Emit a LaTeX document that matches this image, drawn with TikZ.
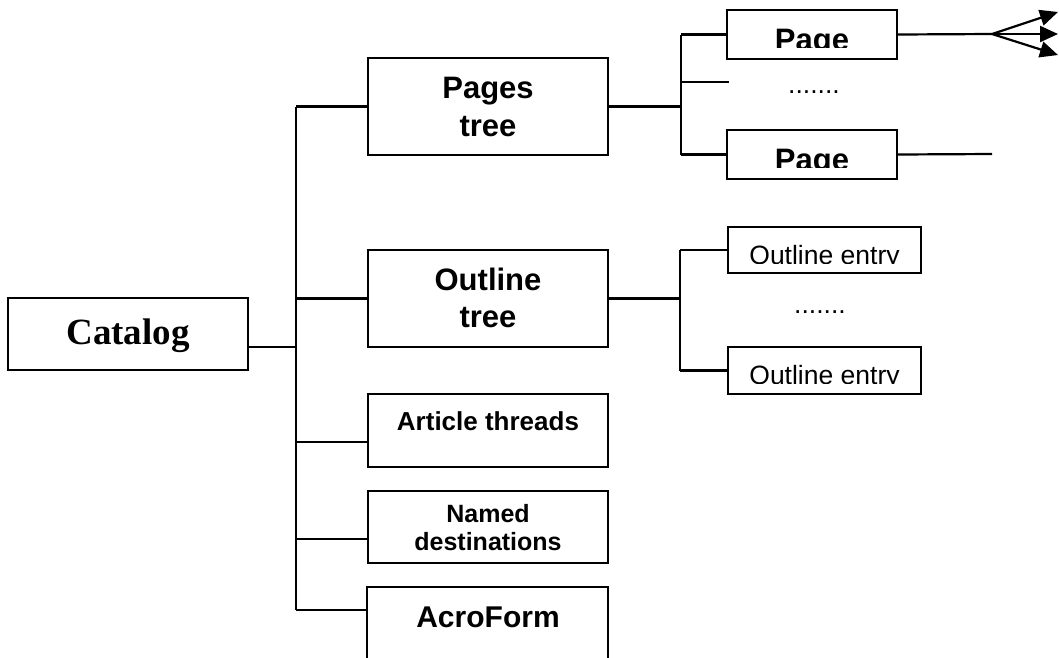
\documentclass[tikz,border=0pt]{standalone}
\usepackage{fontspec}
\setmainfont{Liberation Sans}
\newfontfamily\serifbf{Liberation Serif}
\usetikzlibrary{arrows.meta}

\tikzset{
  box/.style={draw, line width=2.2pt, rectangle, inner sep=0pt},
  wire/.style={line width=2.2pt},
  arr/.style={wire, -{Triangle[length=18pt,width=16pt]}},
  lbl/.style={anchor=base, inner sep=0pt},
  big/.style={lbl, font=\bfseries\fontsize{31}{36}\selectfont},
  mid/.style={lbl, font=\bfseries\fontsize{26}{30}\selectfont},
  reg/.style={lbl, font=\fontsize{26.5}{30}\selectfont},
}

\begin{document}
\begin{tikzpicture}[x=1pt,y=-1pt]
\clip (0,0) rectangle (1059,657);
\fill[white] (0,0) rectangle (1059,657);

% ---- boxes ----
\node[box, minimum width=240pt, minimum height=72pt] (cat)   at (128,334) {};
\node[box, minimum width=240pt, minimum height=97pt] (pages) at (488,106.5) {};
\node[box, minimum width=240pt, minimum height=97pt] (outl)  at (488,298.5) {};
\node[box, minimum width=240pt, minimum height=73pt] (art)   at (488,430.5) {};
\node[box, minimum width=240pt, minimum height=72pt] (named) at (488,527) {};
\node[box, minimum width=241pt, minimum height=120pt] (acro) at (487.5,647) {};
\node[box, minimum width=170pt, minimum height=49pt] (pg1)   at (812,34.5) {};
\node[box, minimum width=170pt, minimum height=49pt] (pg2)   at (812,154.5) {};
\node[box, minimum width=193pt, minimum height=46pt] (oe1)   at (824.5,250) {};
\node[box, minimum width=193pt, minimum height=47pt] (oe2)   at (824.5,370.5) {};

% ---- labels ----
\node[lbl, font=\serifbf\bfseries\fontsize{37}{40}\selectfont] (catT) at (128,344) {Catalog};
\node[big] (pagesT1) at (488,98)  {Pages};
\node[big] (pagesT2) at (488,136) {tree};
\node[big] (outlT1)  at (488,290) {Outline};
\node[big] (outlT2)  at (488,327) {tree};
\node[mid] (artT)    at (488,430) {Article threads};
\node[lbl, font=\bfseries\fontsize{25}{28}\selectfont] (namedT1) at (488,522) {Named};
\node[lbl, font=\bfseries\fontsize{25}{28}\selectfont] (namedT2) at (488,550) {destinations};
\node[lbl, font=\bfseries\fontsize{30}{34}\selectfont] (acroT) at (488,627) {AcroForm};

% page labels are cut off at the lower edge of their text area
\begin{scope}
  \clip (728,11) rectangle (896,47);
  \node[big] (pg1T) at (812,50) {Page};
\end{scope}
\begin{scope}
  \clip (728,131) rectangle (896,167);
  \node[big] (pg2T) at (812,170) {Page};
\end{scope}
\begin{scope}
  \clip (729,228) rectangle (920,263.5);
  \node[reg] (oe1T) at (824.5,264) {Outline entry};
\end{scope}
\begin{scope}
  \clip (729,348) rectangle (920,383.5);
  \node[reg] (oe2T) at (824.5,384) {Outline entry};
\end{scope}

\node[reg] (dots1) at (814,93)  {.......};
\node[reg] (dots2) at (820,313) {.......};

% ---- connectors from the catalog ----
\coordinate (catOut) at (248,347);
\coordinate (tr)     at (296,0);
\coordinate (artIn)  at (368,442);
\coordinate (namIn)  at (368,539);
\coordinate (acroIn) at (367,610);

\draw[wire] (catOut) -- (catOut -| tr);
\draw[wire] (pages.west -| tr) -- (acroIn -| tr);
\draw[wire] (pages.west -| tr) -- (pages.west);
\draw[wire] (outl.west -| tr) -- (outl.west);
\draw[wire] (artIn -| tr) -- (artIn);
\draw[wire] (namIn -| tr) -- (namIn);
\draw[wire] (acroIn -| tr) -- (acroIn);

% ---- pages tree branch ----
\coordinate (pt) at (681,0);
\coordinate (stub) at (729,82);
\draw[wire] (pages.east) -- (pages.east -| pt);
\draw[wire] (pg1.west -| pt) -- (pg2.west -| pt);
\draw[wire] (pg1.west -| pt) -- (pg1.west);
\draw[wire] (pg2.west -| pt) -- (pg2.west);
\draw[wire] (stub -| pt) -- (stub);

\coordinate (fan) at (992,34);
\coordinate (pg2End) at (992,154);
\coordinate (tipA) at (1058,12);
\coordinate (tipB) at (1058,34);
\coordinate (tipC) at (1058,55);
\draw[wire] (pg1.east) -- (fan);
\draw[arr] (fan) -- (tipA);
\draw[arr] (fan) -- (tipB);
\draw[arr] (fan) -- (tipC);
\draw[wire] (pg2.east) -- (pg2End);

% ---- outline tree branch ----
\coordinate (ot) at (680,0);
\draw[wire] (outl.east) -- (outl.east -| ot);
\draw[wire] (oe1.west -| ot) -- (oe2.west -| ot);
\draw[wire] (oe1.west -| ot) -- (oe1.west);
\draw[wire] (oe2.west -| ot) -- (oe2.west);
\end{tikzpicture}
\end{document}
